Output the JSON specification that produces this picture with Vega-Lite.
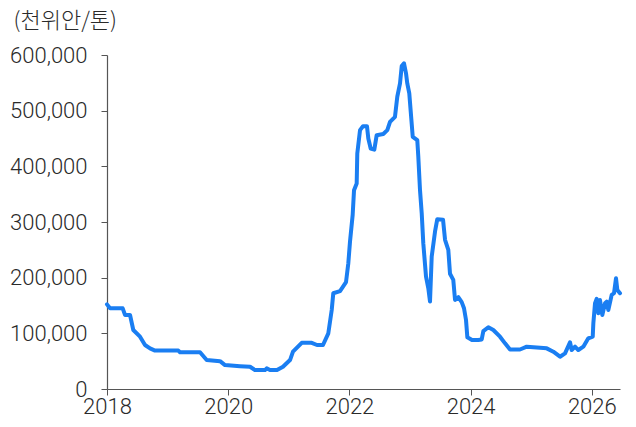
{
  "$schema": "https://vega.github.io/schema/vega-lite/v6.json",
  "autosize": "none",
  "padding": {"left": 107, "top": 55, "right": 16, "bottom": 38},
  "width": 513,
  "height": 334,
  "background": "white",
  "config": {"view": {"stroke": null}},
  "data": {
    "values": [
      {"t": 2018.000, "v": 152000}, {"t": 2018.050, "v": 145000}, {"t": 2018.259, "v": 145000},
      {"t": 2018.297, "v": 133000}, {"t": 2018.380, "v": 133000}, {"t": 2018.434, "v": 106000},
      {"t": 2018.545, "v": 94000}, {"t": 2018.627, "v": 79000}, {"t": 2018.710, "v": 73000},
      {"t": 2018.792, "v": 69000}, {"t": 2019.177, "v": 69000}, {"t": 2019.205, "v": 66000},
      {"t": 2019.535, "v": 66000}, {"t": 2019.645, "v": 52000}, {"t": 2019.865, "v": 50000},
      {"t": 2019.947, "v": 43000}, {"t": 2020.195, "v": 41000}, {"t": 2020.360, "v": 40000},
      {"t": 2020.442, "v": 34000}, {"t": 2020.607, "v": 34000}, {"t": 2020.635, "v": 37000},
      {"t": 2020.690, "v": 34000}, {"t": 2020.805, "v": 34000}, {"t": 2020.904, "v": 40000},
      {"t": 2021.020, "v": 52000}, {"t": 2021.069, "v": 67000}, {"t": 2021.213, "v": 83000},
      {"t": 2021.378, "v": 83000}, {"t": 2021.465, "v": 79000}, {"t": 2021.564, "v": 79000},
      {"t": 2021.652, "v": 100000}, {"t": 2021.708, "v": 142000}, {"t": 2021.734, "v": 172000},
      {"t": 2021.845, "v": 176000}, {"t": 2021.944, "v": 192000}, {"t": 2021.982, "v": 226000},
      {"t": 2022.010, "v": 265000}, {"t": 2022.054, "v": 313000}, {"t": 2022.076, "v": 357000},
      {"t": 2022.120, "v": 369000}, {"t": 2022.130, "v": 423000}, {"t": 2022.175, "v": 465000},
      {"t": 2022.224, "v": 472000}, {"t": 2022.290, "v": 472000}, {"t": 2022.312, "v": 450000},
      {"t": 2022.351, "v": 432000}, {"t": 2022.411, "v": 430000}, {"t": 2022.450, "v": 456000},
      {"t": 2022.559, "v": 458000}, {"t": 2022.625, "v": 465000}, {"t": 2022.670, "v": 480000},
      {"t": 2022.752, "v": 489000}, {"t": 2022.790, "v": 525000}, {"t": 2022.835, "v": 549000},
      {"t": 2022.863, "v": 580000}, {"t": 2022.901, "v": 585000}, {"t": 2022.934, "v": 567000},
      {"t": 2022.955, "v": 549000}, {"t": 2022.988, "v": 531000}, {"t": 2023.012, "v": 498000},
      {"t": 2023.045, "v": 453000}, {"t": 2023.120, "v": 447000}, {"t": 2023.137, "v": 417000},
      {"t": 2023.165, "v": 357000}, {"t": 2023.193, "v": 316000}, {"t": 2023.219, "v": 262000},
      {"t": 2023.264, "v": 202000}, {"t": 2023.302, "v": 181000}, {"t": 2023.330, "v": 157000},
      {"t": 2023.358, "v": 238000}, {"t": 2023.413, "v": 283000}, {"t": 2023.450, "v": 305000},
      {"t": 2023.545, "v": 304000}, {"t": 2023.578, "v": 268000}, {"t": 2023.632, "v": 250000},
      {"t": 2023.660, "v": 207000}, {"t": 2023.714, "v": 196000}, {"t": 2023.743, "v": 160000},
      {"t": 2023.797, "v": 165000}, {"t": 2023.853, "v": 156000}, {"t": 2023.891, "v": 145000},
      {"t": 2023.924, "v": 124000}, {"t": 2023.946, "v": 93000}, {"t": 2024.023, "v": 88000},
      {"t": 2024.127, "v": 88000}, {"t": 2024.183, "v": 89000}, {"t": 2024.210, "v": 104000},
      {"t": 2024.292, "v": 111000}, {"t": 2024.375, "v": 106000}, {"t": 2024.485, "v": 94000},
      {"t": 2024.568, "v": 82000}, {"t": 2024.650, "v": 71000}, {"t": 2024.815, "v": 71000},
      {"t": 2024.926, "v": 76000}, {"t": 2025.256, "v": 73000}, {"t": 2025.365, "v": 67000},
      {"t": 2025.475, "v": 58000}, {"t": 2025.558, "v": 64000}, {"t": 2025.640, "v": 84000},
      {"t": 2025.668, "v": 70000}, {"t": 2025.723, "v": 76000}, {"t": 2025.777, "v": 70000},
      {"t": 2025.860, "v": 76000}, {"t": 2025.942, "v": 91000}, {"t": 2026.015, "v": 94000},
      {"t": 2026.025, "v": 118000}, {"t": 2026.053, "v": 154000}, {"t": 2026.081, "v": 162000},
      {"t": 2026.107, "v": 136000}, {"t": 2026.135, "v": 160000}, {"t": 2026.173, "v": 133000},
      {"t": 2026.218, "v": 154000}, {"t": 2026.246, "v": 157000}, {"t": 2026.272, "v": 142000},
      {"t": 2026.328, "v": 169000}, {"t": 2026.366, "v": 172000}, {"t": 2026.399, "v": 199000},
      {"t": 2026.421, "v": 178000}, {"t": 2026.465, "v": 172000}
    ]
  },
  "mark": {"type": "line", "color": "#1a7ef2", "strokeWidth": 4, "strokeJoin": "round", "strokeCap": "round", "clip": false},
  "encoding": {
    "x": {
      "field": "t",
      "type": "quantitative",
      "scale": {"domain": [2018, 2026.465], "nice": false, "zero": false},
      "axis": {
        "values": [2018, 2020, 2022, 2024, 2026],
        "format": "d",
        "title": null,
        "grid": false,
        "domainColor": "#555555",
        "domainWidth": 1.2,
        "tickColor": "#555555",
        "tickSize": 6,
        "labelFont": "Roboto",
        "labelFontSize": 22,
        "labelFontWeight": 300,
        "labelColor": "#2a2a2a",
        "labelPadding": 1,
        "labelFlush": false
      }
    },
    "y": {
      "field": "v",
      "type": "quantitative",
      "scale": {"domain": [0, 600000], "nice": false},
      "axis": {
        "values": [0, 100000, 200000, 300000, 400000, 500000, 600000],
        "format": ",.0f",
        "grid": false,
        "domainColor": "#555555",
        "domainWidth": 1.2,
        "tickColor": "#555555",
        "tickSize": 6,
        "labelFont": "Roboto",
        "labelFontSize": 22,
        "labelFontWeight": 300,
        "labelColor": "#2a2a2a",
        "labelPadding": 14,
        "title": "(천위안/톤)",
        "titleFont": "Noto Sans CJK KR",
        "titleFontSize": 22,
        "titleFontWeight": 300,
        "titleColor": "#2a2a2a",
        "titleAngle": 0,
        "titleAlign": "left",
        "titleBaseline": "alphabetic",
        "titleX": -94,
        "titleY": -28
      }
    }
  }
}
